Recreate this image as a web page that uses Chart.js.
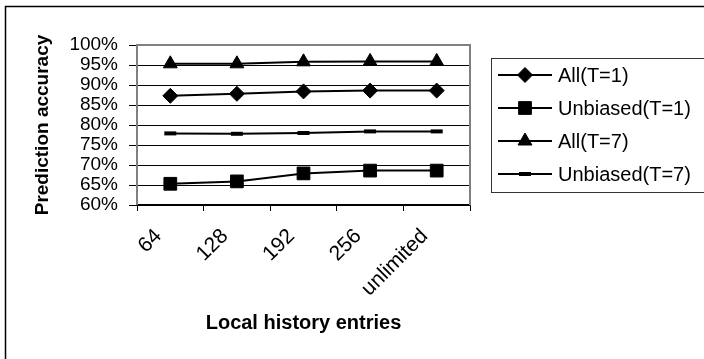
<!DOCTYPE html>
<html lang="en">

<head>
    <meta charset="utf8" />
    <script src="https://cdnjs.cloudflare.com/ajax/libs/Chart.js/4.4.1/chart.umd.min.js"></script>
    <title>Prediction accuracy</title>
    <style>
        html, body { margin: 0; padding: 0; background: #fff; }
        #wrap { width: 704px; height: 359px; overflow: hidden; }
        #chart { display: block; }
    </style>
</head>

<body>
    <div id="wrap">
        <canvas id="chart" width="704" height="359"></canvas>
    </div>

    <script>
        // categories (x axis)
        const historyEntries = ['64', '128', '192', '256', 'unlimited'];

        // series values, in percent
        const allT1 = [87.3, 87.8, 88.4, 88.6, 88.6];
        const unbiasedT1 = [65.3, 65.9, 67.9, 68.6, 68.6];
        const allT7 = [95.3, 95.3, 95.8, 95.9, 95.9];
        const unbiasedT7 = [77.9, 77.8, 78.0, 78.4, 78.4];

        const seriesNames = ['All(T=1)', 'Unbiased(T=1)', 'All(T=7)', 'Unbiased(T=7)'];

        // y axis ticks
        const yMin = 60;
        const yMax = 100;
        const yStep = 5;

        const FONT = "'Liberation Sans', Arial, sans-serif";
        Chart.defaults.color = '#000';
        Chart.defaults.font.family = FONT;

        const markerStyles = [
            { pointStyle: 'rectRot', pointRadius: 7.5, pointBorderWidth: 1 },
            { pointStyle: 'rect', pointRadius: 9, pointBorderWidth: 1 },
            { pointStyle: 'triangle', pointRadius: 8, pointBorderWidth: 1 },
            { pointStyle: 'line', pointRadius: 6, pointBorderWidth: 4 }
        ];

        const seriesData = [allT1, unbiasedT1, allT7, unbiasedT7];

        const datasets = seriesData.map((values, i) => ({
            label: seriesNames[i],
            data: values,
            borderColor: '#000',
            backgroundColor: '#000',
            borderWidth: 2,
            pointBackgroundColor: '#000',
            pointBorderColor: '#000',
            pointHoverRadius: markerStyles[i].pointRadius,
            tension: 0,
            ...markerStyles[i]
        }));

        // gray plot frame + outer border
        const framePlugin = {
            id: 'frame',
            beforeDatasetsDraw(chart) {
                const { ctx, chartArea: a } = chart;
                ctx.save();
                ctx.strokeStyle = '#808080';
                ctx.lineWidth = 2;
                ctx.beginPath();
                ctx.moveTo(a.left, a.bottom);
                ctx.lineTo(a.left, a.top);
                ctx.lineTo(a.right, a.top);
                ctx.lineTo(a.right, a.bottom);
                ctx.stroke();
                ctx.restore();
            },
            afterDraw(chart) {
                const ctx = chart.ctx;
                ctx.save();
                ctx.strokeStyle = '#000';
                ctx.lineWidth = 1.5;
                ctx.strokeRect(5.5, 6.5, 1000, 1000);
                ctx.restore();
            }
        };

        // legend box drawn like the original (line with marker)
        const legendPlugin = {
            id: 'boxLegend',
            afterDraw(chart) {
                const ctx = chart.ctx;
                const box = { x: 491, y: 58, w: 400, h: 134 };
                ctx.save();
                ctx.fillStyle = '#fff';
                ctx.fillRect(box.x, box.y, box.w, box.h);
                ctx.strokeStyle = '#333';
                ctx.lineWidth = 1;
                ctx.strokeRect(box.x + 0.5, box.y + 0.5, box.w, box.h);

                const rowH = 33;
                chart.data.datasets.forEach((ds, i) => {
                    const y = box.y + 17 + i * rowH;
                    ctx.strokeStyle = '#000';
                    ctx.lineWidth = 2;
                    ctx.beginPath();
                    ctx.moveTo(498, y);
                    ctx.lineTo(552, y);
                    ctx.stroke();
                    ctx.fillStyle = '#000';
                    ctx.lineWidth = ds.pointBorderWidth;
                    Chart.helpers.drawPoint(ctx, {
                        pointStyle: ds.pointStyle,
                        radius: ds.pointRadius,
                        borderWidth: ds.pointBorderWidth,
                        rotation: 0
                    }, 525, y);
                    ctx.fillStyle = '#000';
                    ctx.font = '20px ' + FONT;
                    ctx.textAlign = 'left';
                    ctx.textBaseline = 'middle';
                    ctx.fillText(ds.label, 558, y + 1);
                });
                ctx.restore();
            }
        };

        new Chart(document.getElementById('chart'), {
            type: 'line',
            data: { labels: historyEntries, datasets },
            plugins: [framePlugin, legendPlugin],
            options: {
                responsive: false,
                animation: false,
                events: [],
                layout: {
                    padding: { top: 45, right: 234, left: 0, bottom: 0 }
                },
                plugins: {
                    legend: { display: false },
                    tooltip: { enabled: false }
                },
                scales: {
                    x: {
                        offset: true,
                        afterFit(scale) { scale.height = 154; },
                        grid: {
                            offset: true,
                            drawOnChartArea: false,
                            drawTicks: true,
                            tickLength: 6,
                            color: '#000'
                        },
                        border: { color: '#000', width: 1.5 },
                        ticks: {
                            minRotation: 45,
                            maxRotation: 45,
                            autoSkip: false,
                            labelOffset: -12,
                            padding: 13,
                            font: { size: 21 }
                        },
                        title: {
                            display: true,
                            text: 'Local history entries',
                            font: { size: 20, weight: 'bold' },
                            padding: { top: 24, bottom: 24 }
                        }
                    },
                    y: {
                        min: yMin,
                        max: yMax,
                        afterFit(scale) { scale.width = 137; },
                        grid: {
                            color: '#000',
                            lineWidth: 1,
                            tickLength: 8
                        },
                        border: { display: false },
                        ticks: {
                            stepSize: yStep,
                            autoSkip: false,
                            padding: 11,
                            font: { size: 19 },
                            callback: (v) => v + '%'
                        },
                        title: {
                            display: true,
                            text: 'Prediction accuracy',
                            font: { size: 19, weight: 'bold' },
                            padding: { top: 31, bottom: 31 }
                        }
                    }
                }
            }
        });
    </script>
</body>

</html>
